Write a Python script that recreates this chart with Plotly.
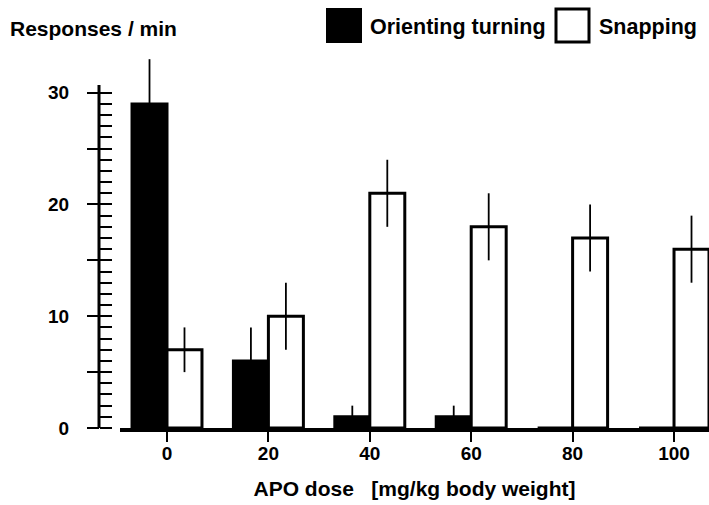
import plotly.graph_objects as go

doses = ["0", "20", "40", "60", "80", "100"]
orienting = [29, 6, 1, 1, 0, 0]
orienting_err = [4, 3, 1, 1, 0, 0]
snapping = [7, 10, 21, 18, 17, 16]
snapping_err = [2, 3, 3, 3, 3, 3]
y_ticks = [0, 10, 20, 30]

W, H = 709, 505
L, R, T, B = 99, 0, 48, 77
PW, PH = W - L - R, H - T - B
YMAX = 34
AXIS_TOP = 30.7


def px_x(p):
    return (p - L) / PW


def px_y(p):
    return 1 + (T - p) / PH


FONT = dict(family="Liberation Sans, Arial, sans-serif", color="black", weight="bold")

fig = go.Figure()
fig.add_trace(go.Bar(
    x=doses, y=orienting, name="Orienting turning",
    marker=dict(color="black", line=dict(color="black", width=3)),
    error_y=dict(type="data", array=orienting_err, color="black", thickness=1.8, width=0),
))
fig.add_trace(go.Bar(
    x=doses, y=snapping, name="Snapping",
    marker=dict(color="white", line=dict(color="black", width=3)),
    error_y=dict(type="data", array=snapping_err, color="black", thickness=1.8, width=0),
))

fig.update_layout(
    width=W, height=H,
    margin=dict(l=L, r=R, t=T, b=B),
    paper_bgcolor="white", plot_bgcolor="white",
    barmode="group", bargap=0.31, bargroupgap=0,
    showlegend=False,
    font=FONT,
    xaxis=dict(
        type="category", range=[-0.4635, 5.345],
        domain=[px_x(120), 1], anchor="y", automargin=False,
        showline=True, linecolor="black", linewidth=4,
        ticks="outside", ticklen=10, tickwidth=2, tickcolor="black",
        ticklabelstandoff=-5,
        tickfont=dict(size=19, **FONT),
        showgrid=False, zeroline=False,
        title=dict(text="APO dose\u00a0\u00a0\u00a0[mg/kg body weight]",
                   font=dict(size=21, **FONT), standoff=20),
    ),
    yaxis=dict(
        range=[0, YMAX], anchor="free", position=0, automargin=False,
        showline=False,
        tickvals=y_ticks, ticktext=[str(v) for v in y_ticks],
        ticks="outside", ticklen=12, tickwidth=2, tickcolor="black",
        ticklabelstandoff=14,
        tickfont=dict(size=19, **FONT),
        minor=dict(tickvals=[5, 15, 25], ticks="outside", ticklen=12, tickwidth=2, tickcolor="black"),
        showgrid=False, zeroline=False,
    ),
    yaxis2=dict(
        range=[0, YMAX], overlaying="y", anchor="free", position=0, side="right",
        automargin=False,
        showline=False, showticklabels=False,
        tickvals=[0, 5, 10, 15, 20, 25, 30],
        ticks="outside", ticklen=12, tickwidth=2, tickcolor="black",
        minor=dict(tickvals=[i for i in range(0, 31) if i % 5 != 0],
                   ticks="outside", ticklen=12, tickwidth=2, tickcolor="black"),
        showgrid=False, zeroline=False,
    ),
)

# invisible trace to activate yaxis2
fig.add_trace(go.Scatter(x=[doses[0]], y=[0], yaxis="y2", mode="markers",
                         marker=dict(opacity=0), hoverinfo="skip", showlegend=False))

# y axis line (stops just above the top tick)
fig.add_shape(type="line", xref="paper", yref="y", x0=0, x1=0, y0=0, y1=AXIS_TOP,
              line=dict(color="black", width=3))

# title and legend
fig.add_annotation(xref="paper", yref="paper", x=px_x(8), y=px_y(28),
                   xanchor="left", yanchor="middle", showarrow=False,
                   text="Responses / min", font=dict(size=21, **FONT))
fig.add_shape(type="rect", xref="paper", yref="paper",
              x0=px_x(327), x1=px_x(361), y0=px_y(42), y1=px_y(9),
              fillcolor="black", line=dict(color="black", width=2))
fig.add_annotation(xref="paper", yref="paper", x=px_x(368), y=px_y(27),
                   xanchor="left", yanchor="middle", showarrow=False,
                   text="Orienting turning", font=dict(size=21.5, **FONT))
fig.add_shape(type="rect", xref="paper", yref="paper",
              x0=px_x(556), x1=px_x(589), y0=px_y(42), y1=px_y(9),
              fillcolor="white", line=dict(color="black", width=3))
fig.add_annotation(xref="paper", yref="paper", x=px_x(597), y=px_y(27),
                   xanchor="left", yanchor="middle", showarrow=False,
                   text="Snapping", font=dict(size=21.5, **FONT))

fig.write_html("out.html", config={"displayModeBar": False},
               post_script="document.body.style.margin='0';")
